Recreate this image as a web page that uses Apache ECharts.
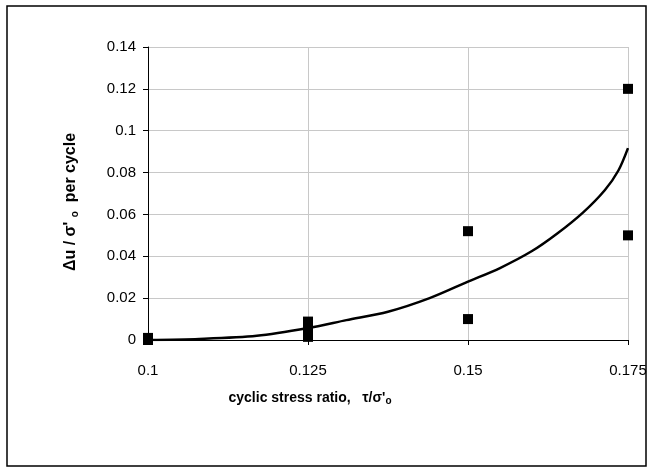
<!DOCTYPE html>
<html>
<head>
<meta charset="utf-8">
<script src="https://cdn.jsdelivr.net/npm/echarts@6/dist/echarts.min.js"></script>
<style>
html, body { margin: 0; padding: 0; background: #fff; }
#chart { width: 653px; height: 473px; }
</style>
</head>
<body>
<div id="chart"></div>
<script>
// measured points (cyclic stress ratio, du/s'o per cycle)
var testX = [0.1, 0.1, 0.125, 0.125, 0.125, 0.15, 0.15, 0.175, 0.175];
var testY = [0.0, 0.001, 0.0015, 0.005, 0.0088, 0.052, 0.010, 0.120, 0.050];

// fitted curve
var fitX = [0.1, 0.108, 0.117, 0.125, 0.131, 0.1375, 0.144, 0.15, 0.155, 0.16, 0.164, 0.168, 0.1714, 0.1735, 0.175];
var fitY = [0.0, 0.0005, 0.002, 0.0057, 0.0095, 0.0135, 0.020, 0.0279, 0.0344, 0.0425, 0.051, 0.061, 0.0717, 0.081, 0.0917];

var xTicks = [0.1, 0.125, 0.15, 0.175];

function pairs(xs, ys) {
    var out = [];
    for (var i = 0; i < xs.length; i++) out.push([xs[i], ys[i]]);
    return out;
}

var font = 'Liberation Sans, Arial, sans-serif';

var myChart = echarts.init(document.getElementById('chart'));
myChart.setOption({
    backgroundColor: '#fff',
    animation: false,
    textStyle: { fontFamily: font },
    grid: { left: 148, right: 25, top: 47, bottom: 133 },
    xAxis: {
        type: 'value',
        min: 0.1,
        max: 0.175,
        interval: 0.025,
        axisLine: { onZero: false, lineStyle: { color: '#000', width: 1 } },
        axisTick: { show: true, inside: false, length: 5, lineStyle: { color: '#000' } },
        axisLabel: {
            color: '#000', fontSize: 15, margin: 23,
            formatter: function (v) {
                for (var i = 0; i < xTicks.length; i++) {
                    if (Math.abs(v - xTicks[i]) < 1e-9) return String(xTicks[i]);
                }
                return '';
            }
        },
        splitLine: { show: true, lineStyle: { color: '#c8c8c8', width: 1 } }
    },
    yAxis: {
        type: 'value',
        min: 0,
        max: 0.14,
        interval: 0.02,
        axisLine: { show: true, lineStyle: { color: '#000', width: 1 } },
        axisTick: { show: true, inside: false, length: 5, lineStyle: { color: '#000' } },
        axisLabel: {
            color: '#000', fontSize: 15, margin: 12,
            formatter: function (v) { return String(Math.round(v * 100) / 100); }
        },
        splitLine: { show: true, lineStyle: { color: '#c8c8c8', width: 1 } }
    },
    series: [{
        name: 'fit',
        type: 'line',
        data: pairs(fitX, fitY),
        smooth: 0.3,
        showSymbol: false,
        lineStyle: { color: '#000', width: 2.5 },
        z: 2
    }, {
        name: 'tests',
        type: 'scatter',
        data: pairs(testX, testY),
        symbol: 'rect',
        symbolSize: 10,
        itemStyle: { color: '#000', opacity: 1 },
        z: 3
    }],
    graphic: [{
        type: 'rect',
        shape: { x: 7, y: 6, width: 639, height: 460 },
        style: { fill: 'none', stroke: '#000', lineWidth: 1.5 },
        silent: true
    }, {
        type: 'text',
        x: 310,
        y: 398,
        style: {
            text: '{b|cyclic stress ratio,   τ/σ\'}{s|o}',
            align: 'center',
            verticalAlign: 'middle',
            rich: {
                b: { fontSize: 14, fontWeight: 'bold', fontFamily: font, fill: '#000' },
                s: { fontSize: 10, fontWeight: 'bold', fontFamily: font, fill: '#000', padding: [6, 0, 0, 0] }
            }
        }
    }, {
        type: 'text',
        x: 71,
        y: 202,
        rotation: Math.PI / 2,
        style: {
            text: '{b|Δu / σ\' }{s|o}{b|  per cycle}',
            align: 'center',
            verticalAlign: 'middle',
            rich: {
                b: { fontSize: 16, fontWeight: 'bold', fontFamily: font, fill: '#000' },
                s: { fontSize: 10, fontWeight: 'bold', fontFamily: font, fill: '#000', padding: [8, 0, 0, 0] }
            }
        }
    }]
});
</script>
</body>
</html>
